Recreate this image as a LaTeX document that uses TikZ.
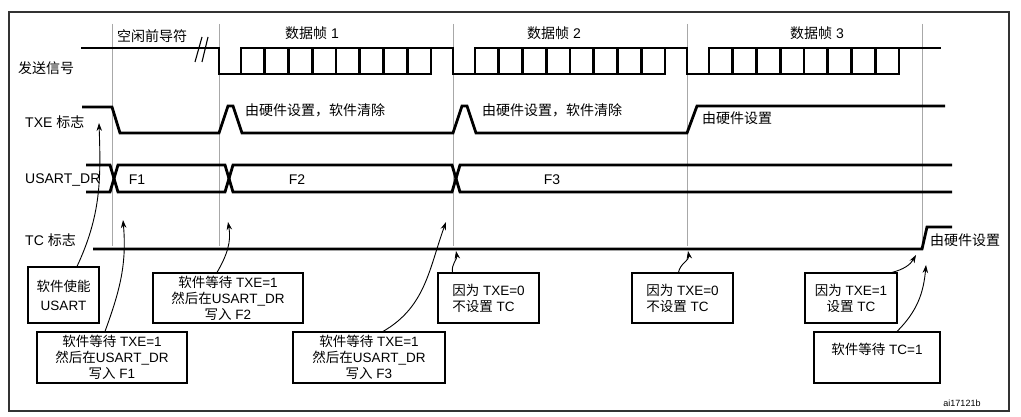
\documentclass[tikz,border=0pt]{standalone}
\usepackage{fontspec}
\setmainfont{Liberation Sans}
\newfontfamily\cjk{Noto Sans CJK SC}
\usepackage{tikz}
\usetikzlibrary{arrows.meta,positioning}
\definecolor{guidec}{HTML}{A8A8A8}
\definecolor{framec}{HTML}{333333}
\newcommand{\zh}[1]{{\cjk #1}}
\tikzset{
  sig/.style={line width=2.8pt,line cap=rect},
  guide/.style={guidec,line width=0.9pt},
  ar/.style={-{Stealth[length=8pt,width=5.5pt]},line width=0.9pt},
  box/.style={draw,line width=1.1pt,align=center,inner sep=0pt,font=\fontsize{13.5}{16}\selectfont},
  lbl/.style={inner sep=0pt,font=\fontsize{14}{16}\selectfont}
}

\begin{document}
\begin{tikzpicture}[x=1pt,y=-1pt]
\useasboundingbox[fill=white] (0,0) rectangle (1021,417);
\draw[framec,line width=1.5pt] (9,12) rectangle (1009,411);
% guide lines
\foreach \g in {112,219,453,687,922}
  \draw[guide] (\g,24) -- (\g,246);
% transmitted signal
\draw[sig] (82,48) -- (219,48);
\draw[line width=1.1pt] (195,62) -- (202,37) (202,62) -- (208,37);
\foreach \s/\e in {219/453,453/687,687/940}{
  \draw[sig] (\s,48) -- (\s,74) -- (\s+212,74);
  \draw[sig] (\s+22,48) -- (\e,48);
  \foreach \k in {0,...,8}
    \draw[sig] (\s+22+\k*23.75,48) -- (\s+22+\k*23.75,74);
}
% TXE
\draw[sig,line cap=butt] (82,107) -- (112,107) -- (120,133) -- (219,133) -- (228,106) -- (233,106) -- (242,133)
  -- (453,133) -- (462,106) -- (467,106) -- (476,133) -- (687,133) -- (697,106) -- (945,106);
% USART_DR
\draw[sig,line cap=butt] (86,165) -- (110,165) -- (118,192) -- (225,192) -- (233,165) -- (452,165) -- (460,192) -- (952,192);
\draw[sig,line cap=butt] (86,192) -- (110,192) -- (118,165) -- (225,165) -- (233,192) -- (452,192) -- (460,165) -- (952,165);
% TC
\draw[sig,line cap=butt] (93,249) -- (922,249) -- (927,227) -- (952,227);

% row labels
\node[lbl,anchor=west] (lsend) at (18,68) {\zh{发送信号}};
\node[lbl,anchor=west] (ltxe) at (25,122) {TXE \zh{标志}};
\node[lbl,anchor=west] (ldr) at (25,180) {USART\_DR};
\node[lbl,anchor=west] (ltc) at (25,240) {TC \zh{标志}};
\node[lbl,anchor=west] (idle) at (117,36) {\zh{空闲前导符}};
\node[lbl] (fr1) at (312,33) {\zh{数据帧} 1};
\node[lbl] (fr2) at (554,33) {\zh{数据帧} 2};
\node[lbl] (fr3) at (817,33) {\zh{数据帧} 3};
\node[lbl,anchor=west] (hw1) at (245,110) {\zh{由硬件设置，软件清除}};
\node[lbl,anchor=west] (hw2) at (482,110) {\zh{由硬件设置，软件清除}};
\node[lbl,anchor=west] (hw3) at (702,118) {\zh{由硬件设置}};
\node[lbl,anchor=west] (hw4) at (930,240) {\zh{由硬件设置}};
\node[lbl] (d1) at (137,180) {F1};
\node[lbl] (d2) at (297,180) {F2};
\node[lbl] (d3) at (552,180) {F3};
\node[inner sep=0pt,font=\fontsize{9}{10}\selectfont] (fig) at (962,403) {ai17121b};

% boxes
\node[box,minimum width=71,minimum height=56] (en) at (63.5,295) {\zh{软件使能}\\[3pt]USART};
\node[box,minimum width=150,minimum height=51] (w1) at (112,357.5) {\zh{软件等待} TXE=1\\\zh{然后在}USART\_DR\\\zh{写入} F1};
\node[box,minimum width=150,minimum height=50] (w2) at (228,298) {\zh{软件等待} TXE=1\\\zh{然后在}USART\_DR\\\zh{写入} F2};
\node[box,minimum width=152,minimum height=51] (w3) at (369,357.5) {\zh{软件等待} TXE=1\\\zh{然后在}USART\_DR\\\zh{写入} F3};
\node[box,align=left,minimum width=101,minimum height=50] (n1) at (488.5,298) {\zh{因为} TXE=0\\\zh{不设置} TC};
\node[box,align=left,minimum width=101,minimum height=50] (n2) at (682.5,298) {\zh{因为} TXE=0\\\zh{不设置} TC};
\node[box,minimum width=92,minimum height=50] (s1) at (851,298) {\zh{因为} TXE=1\\\zh{设置} TC};
\node[box,minimum width=126,minimum height=51,text height=10pt,text depth=17pt] (wt) at (877,357.5) {\zh{软件等待} TC=1};

% arrow targets
\coordinate (tEn) at (99,123);
\coordinate (tF1) at (123,220);
\coordinate (tF2) at (228,222);
\coordinate (tF3) at (446,222);
\coordinate (tN1) at (456,251);
\coordinate (tN2) at (688,251);
\coordinate (tS1) at (916,255);
\coordinate (tWt) at (926,265);

\draw[ar] ([xshift=13.5pt]en.north) to[out=65,in=-88] (tEn);
\draw[ar] ([xshift=-7pt]w1.north) to[out=70,in=-85] (tF1);
\draw[ar] ([xshift=-11pt]w2.north) to[out=60,in=-80] (tF2);
\draw[ar] ([xshift=14pt]w3.north) to[out=30,in=-110] (tF3);
\draw[ar] ([xshift=-36pt]n1.north) to[out=100,in=-80] (tN1);
\draw[ar] ([xshift=-4pt]n2.north) to[out=80,in=-80] (tN2);
\draw[ar] ([xshift=41pt]s1.north) to[out=15,in=-120] (tS1);
\draw[ar] ([xshift=20pt]wt.north) to[out=45,in=-95] (tWt);
\end{tikzpicture}
\end{document}
